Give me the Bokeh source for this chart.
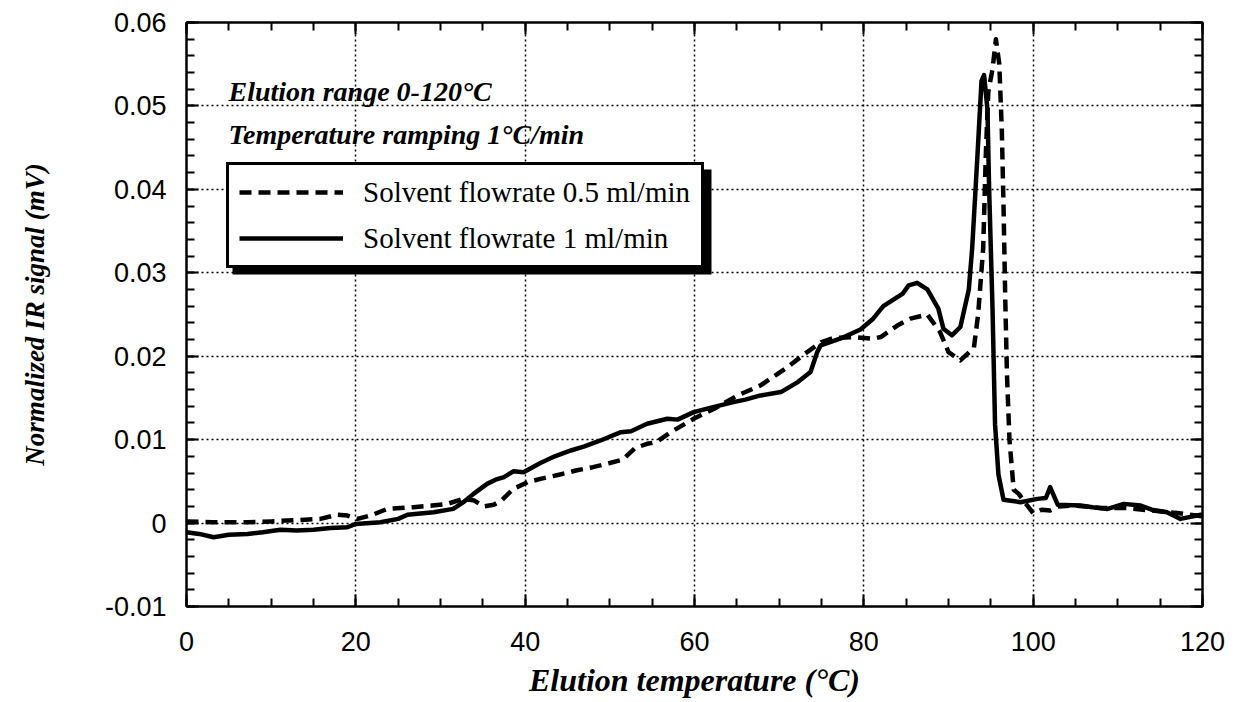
from bokeh.plotting import figure
from bokeh.models import (Range1d, LinearAxis, Legend, LegendItem, Label,
                          BoxAnnotation, SingleIntervalTicker, NumeralTickFormatter)
from bokeh.embed import file_html
from bokeh.resources import INLINE

# ---- data ----
x_1ml = [0, 1.5, 3.2, 5, 7.2, 9, 11.1, 13, 15, 17,
         19, 20, 22.9, 25, 26.1, 27, 29.2, 31.5, 32.7, 33.9,
         35.5, 36.5, 37.5, 38.6, 39.8, 41.8, 43.5, 45.4, 47, 48.9,
         51.3, 52.5, 54.4, 56.8, 58, 59.9, 62.2, 64.6, 66, 67.8,
         70.2, 72.2, 73.7, 74.5, 74.9, 77.2, 79.6, 81.1, 82.3, 84.6,
         85.3, 86.3, 87.5, 88.8, 89.4, 90.4, 91.4, 92.4, 92.8, 93.4,
         93.9, 94.2, 94.6, 94.8, 95.2, 95.5, 95.9, 96.5, 98.5, 100.5,
         101.5, 102, 102.9, 105.6, 107, 108.8, 110.7, 112.7, 114, 115.8,
         117.4, 119.8, 120]
y_1ml = [-0.0011, -0.0013, -0.0017, -0.0014, -0.0013, -0.0011, -0.0008, -0.0009, -0.0008, -0.0006,
         -0.0005, -0.0001, 0.0001, 0.0005, 0.0010, 0.0011, 0.0013, 0.0017, 0.0025, 0.0035,
         0.0047, 0.0052, 0.0055, 0.0062, 0.0061, 0.0072, 0.0080, 0.0087, 0.0092, 0.0099,
         0.0109, 0.0110, 0.0119, 0.0125, 0.0124, 0.0133, 0.0139, 0.0145, 0.0148, 0.0153,
         0.0157, 0.0169, 0.0181, 0.0205, 0.0213, 0.0221, 0.0232, 0.0245, 0.0260, 0.0275,
         0.0285, 0.0288, 0.0280, 0.0257, 0.0233, 0.0225, 0.0235, 0.0280, 0.0330, 0.0437,
         0.0530, 0.0537, 0.0496, 0.0400, 0.0257, 0.0118, 0.0058, 0.0028, 0.0025, 0.0029,
         0.0030, 0.0043, 0.0022, 0.0021, 0.0019, 0.0017, 0.0023, 0.0021, 0.0016, 0.0013,
         0.0005, 0.0010, 0.0008]

x_05ml = [0, 3, 7.2, 10, 11.9, 14, 15.8, 17.8, 19, 20.2,
          22, 23.7, 26.8, 29, 30.8, 32.7, 34, 35.1, 36.3, 37.3,
          38.6, 40.3, 41.8, 44, 46, 48, 50, 51.5, 53, 54.4,
          55.5, 57.2, 59.9, 62.5, 65.1, 67.8, 71, 73.3, 75, 76.5,
          78.8, 81.1, 82, 84, 85.5, 87.5, 89, 90, 91.4, 93,
          93.5, 94.1, 94.4, 94.7, 95.2, 95.6, 96.0, 96.3, 96.5, 96.7,
          96.9, 97.2, 97.7, 98.3, 99, 100, 101, 102, 103, 105,
          108, 111, 114, 117, 120]
y_05ml = [0.0002, 0.0001, 0.0001, 0.0002, 0.0003, 0.0004, 0.0005, 0.0010, 0.0009, 0.0005,
          0.0010, 0.0017, 0.0019, 0.0021, 0.0023, 0.0029, 0.0027, 0.0020, 0.0022, 0.0028,
          0.0041, 0.0049, 0.0053, 0.0058, 0.0063, 0.0067, 0.0072, 0.0076, 0.0090, 0.0095,
          0.0097, 0.0109, 0.0125, 0.0138, 0.0153, 0.0165, 0.0187, 0.0205, 0.0217, 0.0222,
          0.0223, 0.0221, 0.0223, 0.0237, 0.0245, 0.0250, 0.0229, 0.0205, 0.0195, 0.0210,
          0.0250, 0.0330, 0.0440, 0.0517, 0.0544, 0.0580, 0.0550, 0.0470, 0.0380, 0.0270,
          0.0180, 0.0100, 0.0040, 0.0035, 0.0025, 0.0012, 0.0016, 0.0015, 0.0020, 0.0021,
          0.0018, 0.0018, 0.0015, 0.0012, 0.0008]

labels = ["Solvent flowrate 0.5 ml/min", "Solvent flowrate 1 ml/min"]
notes = ["Elution range 0-120\u00b0C", "Temperature ramping 1\u00b0C/min"]
x_title = "Elution temperature (\u00b0C)"
y_title = "Normalized IR signal (mV)"

SERIF = "Liberation Serif"
SANS = "Liberation Sans"

p = figure(width=1234, height=702, output_backend="svg", toolbar_location=None,
           x_range=Range1d(0, 120), y_range=Range1d(-0.01, 0.06),
           min_border_left=186, min_border_right=32, min_border_top=22,
           min_border_bottom=96, background_fill_color="white",
           border_fill_color="white")
p.outline_line_color = "black"
p.outline_line_width = 2

bottom_ax = p.below[0]
left_ax = p.left[0]
bottom_ax.axis_label = x_title
left_ax.axis_label = y_title

xt = SingleIntervalTicker(interval=20, num_minor_ticks=4)
yt = SingleIntervalTicker(interval=0.01, num_minor_ticks=5)
bottom_ax.ticker = xt
left_ax.ticker = yt
left_ax.formatter = NumeralTickFormatter(format="0.[00]")

top_ax = LinearAxis(ticker=xt)
right_ax = LinearAxis(ticker=yt)
p.add_layout(top_ax, "above")
p.add_layout(right_ax, "right")

for ax in [bottom_ax, left_ax, top_ax, right_ax]:
    ax.axis_line_color = "black"
    ax.axis_line_width = 2
    ax.major_tick_in = 12
    ax.major_tick_out = 0
    ax.minor_tick_in = 8
    ax.minor_tick_out = 0
    ax.major_tick_line_width = 2
    ax.minor_tick_line_width = 2
    ax.major_tick_line_color = "black"
    ax.minor_tick_line_color = "black"
    ax.major_label_text_font = SANS
    ax.major_label_text_font_size = "27px"
    ax.major_label_text_color = "black"
    ax.axis_label_text_font = SERIF
    ax.axis_label_text_font_style = "bold italic"
    ax.axis_label_text_color = "black"

for ax in [top_ax, right_ax]:
    ax.major_label_text_color = None
    ax.major_label_text_font_size = "1px"
    ax.major_label_standoff = 0

bottom_ax.major_label_standoff = 25
bottom_ax.axis_label_text_font_size = "32px"
bottom_ax.axis_label_standoff = 8
left_ax.major_label_standoff = 20
left_ax.axis_label_text_font_size = "27px"
left_ax.axis_label_standoff = 52

p.xgrid.ticker = xt
p.ygrid.ticker = yt
for g in [p.xgrid[0], p.ygrid[0]]:
    g.grid_line_color = "black"
    g.grid_line_width = 1.5
    g.grid_line_dash = "2 3"

r_dash = p.line(x_05ml, y_05ml, line_color="black", line_width=4.5,
                line_dash="12 7", line_join="round")
r_solid = p.line(x_1ml, y_1ml, line_color="black", line_width=4.5,
                 line_join="round")

# legend drop shadow
shadow = BoxAnnotation(left=46, right=525, bottom=332, top=437,
                       left_units="screen", right_units="screen",
                       bottom_units="screen", top_units="screen",
                       fill_color="black", fill_alpha=1, line_color=None)
p.add_layout(shadow)

legend = Legend(items=[LegendItem(label=labels[0], renderers=[r_dash]),
                       LegendItem(label=labels[1], renderers=[r_solid])],
                location=(40, 338), orientation="vertical",
                border_line_color="black", border_line_width=3,
                border_line_alpha=1,
                background_fill_color="white", background_fill_alpha=1,
                label_text_font=SERIF, label_text_font_size="29px",
                label_text_color="black",
                glyph_width=104, glyph_height=34, label_height=34,
                label_width=328, label_standoff=20, padding=10, spacing=12,
                margin=0)
p.add_layout(legend, "center")

for txt, yy in zip(notes, [515, 472]):
    p.add_layout(Label(x=42, y=yy, x_units="screen", y_units="screen", text=txt,
                       text_font=SERIF, text_font_style="bold italic",
                       text_font_size="28px", text_color="black",
                       text_baseline="alphabetic"))

open("out.html", "w").write(file_html(p, INLINE))
